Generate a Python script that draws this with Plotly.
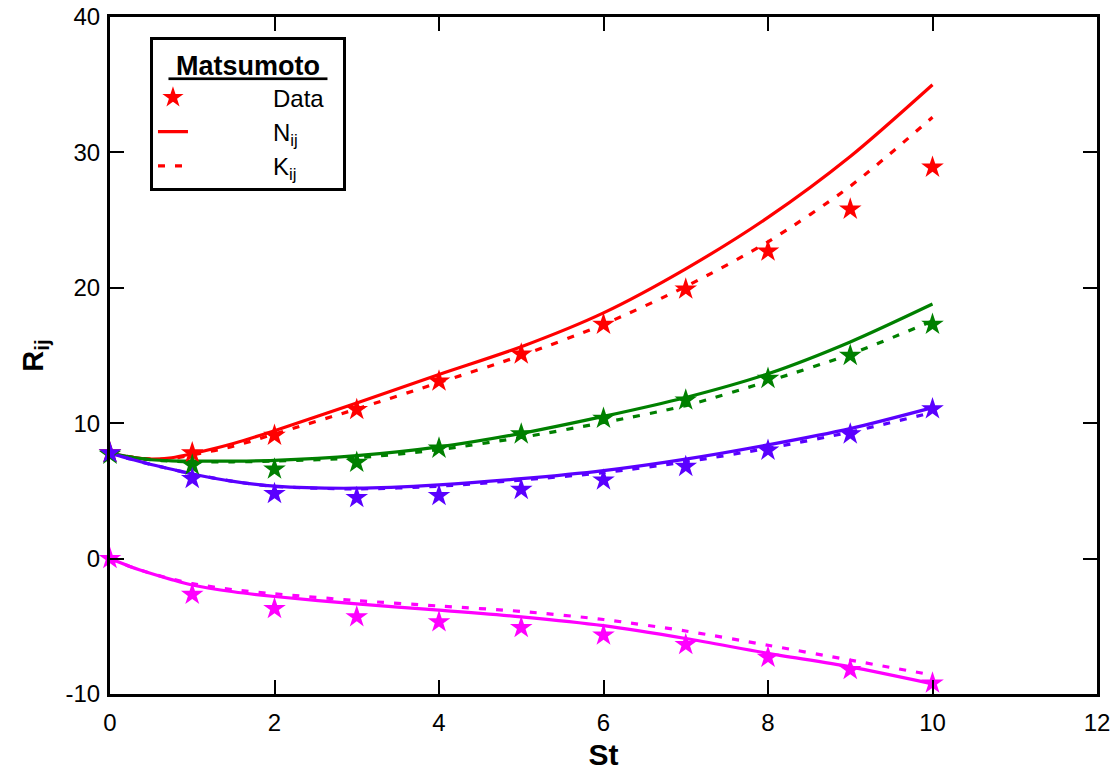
import plotly.graph_objects as go

# ---- data ----
st_data = [0, 1, 2, 3, 4, 5, 6, 7, 8, 9, 10]
red_data = [7.8, 7.8, 9.1, 11.0, 13.1, 15.1, 17.3, 19.9, 22.7, 25.8, 28.9]
green_data = [7.7, 6.9, 6.6, 7.1, 8.15, 9.2, 10.35, 11.7, 13.3, 15.0, 17.3]
blue_data = [7.8, 5.9, 4.8, 4.5, 4.65, 5.1, 5.8, 6.8, 8.0, 9.2, 11.05]
magenta_data = [0.0, -2.65, -3.7, -4.3, -4.67, -5.1, -5.65, -6.35, -7.3, -8.2, -9.2]

st_curve = [0, 0.25, 0.5, 0.75, 1, 1.5, 2, 3, 4, 5, 6, 7, 8, 9, 10]
red_N = [7.8, 7.5, 7.35, 7.45, 7.75, 8.5, 9.45, 11.5, 13.6, 15.65, 18.15, 21.4, 25.2, 29.7, 35.0]
red_K = [7.8, 7.5, 7.35, 7.4, 7.65, 8.3, 9.2, 11.05, 13.0, 15.0, 17.3, 20.1, 23.4, 27.5, 32.6]
green_N = [7.8, 7.5, 7.3, 7.22, 7.2, 7.2, 7.25, 7.6, 8.25, 9.25, 10.5, 11.9, 13.65, 16.0, 18.8]
green_K = [7.8, 7.5, 7.3, 7.2, 7.15, 7.15, 7.2, 7.45, 8.05, 8.95, 10.05, 11.3, 13.1, 15.1, 17.55]
blue_N = [7.8, 7.35, 6.95, 6.6, 6.25, 5.7, 5.35, 5.2, 5.45, 5.9, 6.5, 7.35, 8.4, 9.6, 11.15]
blue_K = [7.8, 7.35, 6.95, 6.6, 6.25, 5.7, 5.33, 5.15, 5.35, 5.8, 6.35, 7.15, 8.15, 9.35, 10.8]
magenta_N = [0.0, -0.6, -1.1, -1.55, -1.95, -2.45, -2.8, -3.35, -3.8, -4.3, -4.95, -5.9, -7.0, -8.0, -9.25]
magenta_K = [0.0, -0.6, -1.1, -1.5, -1.85, -2.3, -2.6, -3.1, -3.5, -3.9, -4.5, -5.35, -6.4, -7.5, -8.6]

x_ticks = [0, 2, 4, 6, 8, 10, 12]
y_ticks = [-10, 0, 10, 20, 30, 40]

series = [
    ("#FF0000", red_data, red_N, red_K),
    ("#008000", green_data, green_N, green_K),
    ("#5A00FF", blue_data, blue_N, blue_K),
    ("#FF00FF", magenta_data, magenta_N, magenta_K),
]

FONT = "Liberation Sans, Arial, sans-serif"
PAD = "\u00a0" * 12
fig = go.Figure()

# lines first
for i, (col, d, n, k) in enumerate(series):
    first = i == 0
    fig.add_trace(go.Scatter(
        x=st_curve, y=n, mode="lines", line=dict(color=col, width=3.2, shape="spline", smoothing=0.8),
        name=PAD + "N<sub>ij</sub>", showlegend=first, legendrank=2))
    fig.add_trace(go.Scatter(
        x=st_curve, y=k, mode="lines", line=dict(color=col, width=3.2, dash="7px,10px", shape="spline", smoothing=0.8),
        name=PAD + "K<sub>ij</sub>", showlegend=first, legendrank=3))

# markers on top
for i, (col, d, n, k) in enumerate(series):
    fig.add_trace(go.Scatter(
        x=st_data, y=d, mode="markers",
        marker=dict(symbol="star", size=17, color=col, line=dict(width=0)),
        name=PAD + "Data" + "\u00a0" * 2, showlegend=(i == 0), legendrank=1, cliponaxis=False))

axis_common = dict(
    showline=True, linecolor="black", linewidth=3, mirror="allticks",
    ticks="inside", ticklen=14, tickwidth=2, tickcolor="black",
    showgrid=False, zeroline=False, automargin=False,
    tickfont=dict(family=FONT, size=24, color="black"),
)

fig.update_xaxes(range=[0, 12], tickvals=x_ticks, ticktext=[str(v) for v in x_ticks],
                 ticklabelstandoff=5,
                 title=dict(text="<b>St</b>", font=dict(family=FONT, size=30, color="black"), standoff=10),
                 **axis_common)
fig.update_yaxes(range=[-10, 40], tickvals=y_ticks, ticktext=[str(v) for v in y_ticks],
                 ticklabelstandoff=2,
                 title=dict(text="<b>R<sub>ij</sub></b>", font=dict(family=FONT, size=29, color="black"), standoff=14),
                 **axis_common)

fig.update_layout(
    width=1119, height=778,
    margin=dict(l=110, r=22, t=17, b=84),
    plot_bgcolor="white", paper_bgcolor="white",
    font=dict(family=FONT, color="black"),
    legend=dict(
        x=0.0405, y=0.970, xanchor="left", yanchor="top",
        bgcolor="white", bordercolor="black", borderwidth=3,
        font=dict(family=FONT, size=24, color="black"),
        title=dict(text="<b><u>\u00a0Matsumoto\u00a0</u></b>", side="top center",
                   font=dict(family=FONT, size=27, color="black")),
        tracegroupgap=4,
    ),
)

fig.write_html("out.html")
